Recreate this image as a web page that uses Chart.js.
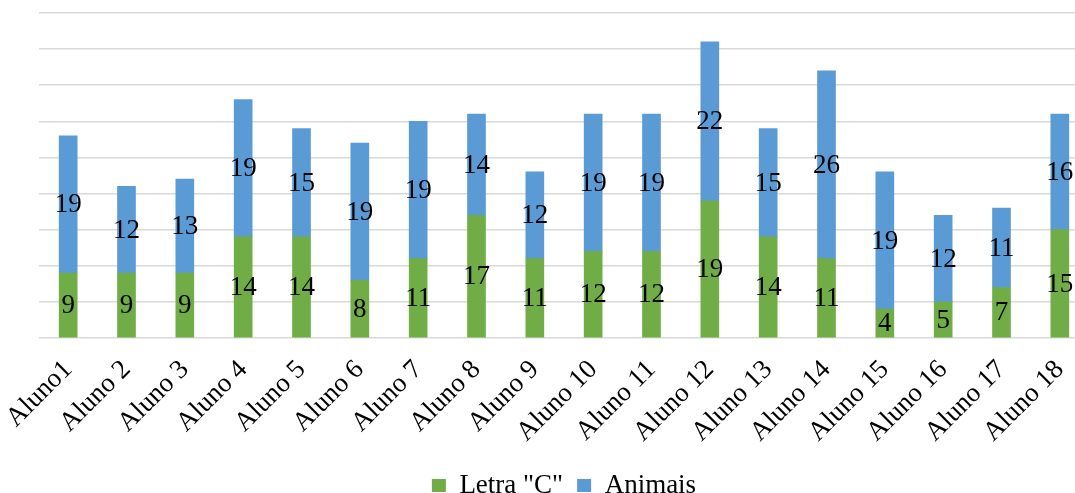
<!DOCTYPE html>
<html>
<head>
<meta charset="utf-8">
<script src="https://cdn.jsdelivr.net/npm/chart.js@4/dist/chart.umd.min.js"></script>
<style>
  html, body { margin: 0; padding: 0; background: #fff; overflow: hidden; }
  #wrap { position: relative; width: 1090px; height: 509px; }
</style>
</head>
<body>
<div id="wrap"><canvas id="chart"></canvas></div>
<script>
// Students on the x axis
const categories = ['Aluno1', 'Aluno 2', 'Aluno 3', 'Aluno 4', 'Aluno 5', 'Aluno 6', 'Aluno 7', 'Aluno 8', 'Aluno 9',
  'Aluno 10', 'Aluno 11', 'Aluno 12', 'Aluno 13', 'Aluno 14', 'Aluno 15', 'Aluno 16', 'Aluno 17', 'Aluno 18'];
// Words written per category
const letraC = [9, 9, 9, 14, 14, 8, 11, 17, 11, 12, 12, 19, 14, 11, 4, 5, 7, 15];
const animais = [19, 12, 13, 19, 15, 19, 19, 14, 12, 19, 19, 22, 15, 26, 19, 12, 11, 16];
const seriesNames = ['Letra "C"', 'Animais'];

const serif = '"Liberation Serif", "Times New Roman", serif';

// Writes each segment's value in the middle of its bar segment
const segmentLabels = {
  id: 'segmentLabels',
  afterDatasetsDraw(chart) {
    const ctx = chart.ctx;
    ctx.save();
    ctx.font = '27px ' + serif;
    ctx.fillStyle = '#000';
    ctx.textAlign = 'center';
    ctx.textBaseline = 'middle';
    chart.data.datasets.forEach((ds, i) => {
      const meta = chart.getDatasetMeta(i);
      meta.data.forEach((bar, j) => {
        const p = bar.getProps(['x', 'y', 'base'], true);
        ctx.fillText(String(ds.data[j]), p.x, (p.y + p.base) / 2 + 1);
      });
    });
    ctx.restore();
  }
};

new Chart(document.getElementById('chart'), {
  type: 'bar',
  data: {
    labels: categories,
    datasets: [
      { label: seriesNames[0], data: letraC, backgroundColor: '#70AD47', barThickness: 18 },
      { label: seriesNames[1], data: animais, backgroundColor: '#5B9BD5', barThickness: 18 }
    ]
  },
  options: {
    responsive: true,
    maintainAspectRatio: false,
    animation: false,
    layout: { padding: { left: 39, right: 1, top: 13, bottom: 0 } },
    scales: {
      x: {
        stacked: true,
        grid: { display: false },
        border: { display: false },
        afterFit(scale) {
          scale.height = 120;
          scale.paddingLeft = 0;
          scale.paddingRight = 0;
        },
        ticks: {
          color: '#000',
          font: { family: serif, size: 27 },
          minRotation: 45,
          maxRotation: 45,
          autoSkip: false,
          padding: 8
        }
      },
      y: {
        stacked: true,
        min: 0,
        max: 45,
        ticks: { display: false, stepSize: 5 },
        grid: { color: '#D9D9D9', lineWidth: 1.5, drawTicks: false },
        border: { display: false }
      }
    },
    plugins: {
      legend: {
        position: 'bottom',
        labels: {
          color: '#000',
          font: { family: serif, size: 27 },
          boxWidth: 14,
          boxHeight: 13,
          padding: 14
        }
      },
      tooltip: { enabled: false }
    }
  },
  plugins: [segmentLabels]
});
</script>
</body>
</html>
